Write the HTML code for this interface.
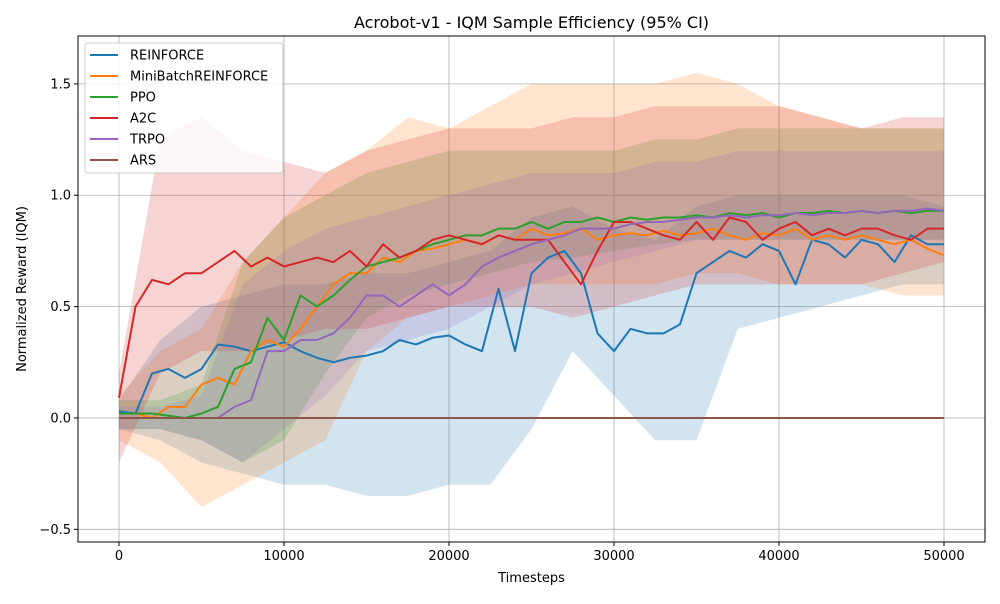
<!DOCTYPE html>
<html><head><meta charset="utf-8">
<style>
body{margin:0;background:#fff;font-family:"DejaVu Sans","Liberation Sans",sans-serif;}
svg text{font-family:"DejaVu Sans","Liberation Sans",sans-serif;}
</style></head>
<body>
<svg id="chart" width="1000" height="600" viewBox="0 0 1000 600" xmlns="http://www.w3.org/2000/svg"></svg>
<script>
const seriesNames = ["REINFORCE","MiniBatchREINFORCE","PPO","A2C","TRPO","ARS"];
const seriesColors = ["#1f77b4","#ff7f0e","#2ca02c","#d62728","#9467bd","#8c564b"];
const xTicks = [0,10000,20000,30000,40000,50000];
const yTicks = [-0.5,0,0.5,1.0,1.5];
const yTickLabels = ["−0.5","0.0","0.5","1.0","1.5"];
const meanSteps = Array.from({length:51},(_,i)=>i*1000);
const bandSteps = Array.from({length:21},(_,i)=>i*2500);

const reinforceMean = [0.03,0.02,0.2,0.22,0.18,0.22,0.33,0.32,0.3,0.32,0.34,0.3,0.27,0.25,0.27,0.28,0.3,0.35,0.33,0.36,0.37,0.33,0.3,0.58,0.3,0.65,0.72,0.75,0.65,0.38,0.3,0.4,0.38,0.38,0.42,0.65,0.7,0.75,0.72,0.78,0.75,0.6,0.8,0.78,0.72,0.8,0.78,0.7,0.82,0.78,0.78];
const miniBatchMean = [0.02,0.02,0.0,0.05,0.05,0.15,0.18,0.15,0.3,0.35,0.32,0.4,0.5,0.6,0.65,0.65,0.72,0.7,0.75,0.76,0.78,0.8,0.78,0.82,0.8,0.85,0.82,0.83,0.85,0.8,0.82,0.83,0.82,0.84,0.82,0.83,0.85,0.82,0.8,0.83,0.82,0.85,0.8,0.82,0.8,0.82,0.8,0.78,0.8,0.76,0.73];
const ppoMean = [0.02,0.02,0.02,0.01,0.0,0.02,0.05,0.22,0.25,0.45,0.35,0.55,0.5,0.55,0.62,0.68,0.7,0.72,0.75,0.78,0.8,0.82,0.82,0.85,0.85,0.88,0.85,0.88,0.88,0.9,0.88,0.9,0.89,0.9,0.9,0.91,0.9,0.92,0.91,0.92,0.9,0.92,0.92,0.93,0.92,0.93,0.92,0.93,0.92,0.93,0.93];
const a2cMean = [0.09,0.5,0.62,0.6,0.65,0.65,0.7,0.75,0.68,0.72,0.68,0.7,0.72,0.7,0.75,0.68,0.78,0.72,0.75,0.8,0.82,0.8,0.78,0.82,0.8,0.8,0.8,0.7,0.6,0.75,0.88,0.88,0.85,0.82,0.8,0.88,0.8,0.9,0.88,0.8,0.85,0.88,0.82,0.85,0.82,0.85,0.85,0.82,0.8,0.85,0.85];
const trpoMean = [0.0,0.0,0.0,0.0,0.0,0.0,0.0,0.05,0.08,0.3,0.3,0.35,0.35,0.38,0.45,0.55,0.55,0.5,0.55,0.6,0.55,0.6,0.68,0.72,0.75,0.78,0.8,0.82,0.85,0.85,0.85,0.87,0.88,0.88,0.89,0.9,0.9,0.91,0.9,0.91,0.91,0.92,0.91,0.92,0.92,0.93,0.92,0.93,0.93,0.94,0.93];
const arsMean = Array(51).fill(0);

const reinforceLo = [-0.05,-0.1,-0.2,-0.25,-0.3,-0.3,-0.35,-0.35,-0.3,-0.3,-0.05,0.3,0.1,-0.1,-0.1,0.4,0.45,0.5,0.55,0.6,0.6];
const reinforceHi = [0.08,0.35,0.5,0.55,0.6,0.6,0.65,0.65,0.7,0.75,0.9,0.95,0.85,0.8,0.95,1.0,1.0,1.0,1.0,1.0,0.95];
const miniBatchLo = [-0.1,-0.2,-0.4,-0.3,-0.2,-0.1,0.3,0.45,0.5,0.55,0.6,0.6,0.6,0.6,0.65,0.65,0.6,0.6,0.6,0.55,0.55];
const miniBatchHi = [0.1,0.3,0.4,0.7,0.9,1.1,1.2,1.35,1.3,1.4,1.5,1.5,1.5,1.5,1.55,1.5,1.4,1.35,1.3,1.3,1.3];
const ppoLo = [-0.05,-0.05,-0.1,-0.2,-0.1,0.2,0.45,0.55,0.6,0.65,0.7,0.72,0.75,0.78,0.8,0.8,0.8,0.8,0.8,0.8,0.8];
const ppoHi = [0.08,0.08,0.15,0.7,0.9,1.0,1.1,1.15,1.2,1.2,1.2,1.2,1.2,1.25,1.25,1.3,1.3,1.3,1.3,1.3,1.3];
const a2cLo = [-0.2,0.2,0.3,0.3,0.35,0.4,0.4,0.45,0.5,0.5,0.5,0.45,0.5,0.55,0.6,0.6,0.6,0.6,0.6,0.65,0.7];
const a2cHi = [0.2,1.25,1.35,1.2,1.15,1.1,1.2,1.25,1.3,1.3,1.3,1.35,1.35,1.4,1.4,1.4,1.4,1.35,1.3,1.35,1.35];
const trpoLo = [-0.05,-0.05,-0.1,-0.2,-0.05,0.1,0.3,0.35,0.4,0.5,0.6,0.65,0.7,0.75,0.8,0.8,0.8,0.8,0.8,0.8,0.8];
const trpoHi = [0.05,0.05,0.1,0.6,0.75,0.85,0.9,0.95,1.0,1.05,1.1,1.1,1.1,1.15,1.15,1.2,1.2,1.2,1.2,1.2,1.2];

const means = [reinforceMean,miniBatchMean,ppoMean,a2cMean,trpoMean,arsMean];
const los = [reinforceLo,miniBatchLo,ppoLo,a2cLo,trpoLo,null];
const his = [reinforceHi,miniBatchHi,ppoHi,a2cHi,trpoHi,null];

const P = {l:78,r:985,t:36,b:542};
const xMin=-2485, xMax=52485, yMin=-0.557, yMax=1.715;
const sx = v => P.l + (v-xMin)/(xMax-xMin)*(P.r-P.l);
const sy = v => P.b - (v-yMin)/(yMax-yMin)*(P.b-P.t);
const NS="http://www.w3.org/2000/svg";
const svg=document.getElementById('chart');
function mk(tag,attrs,parent){const e=document.createElementNS(NS,tag);for(const k in attrs)e.setAttribute(k,attrs[k]);(parent||svg).appendChild(e);return e;}

xTicks.forEach(t=>{
  const g=mk('line',{x1:sx(t),x2:sx(t),y1:P.t,y2:P.b,stroke:'#b0b0b0','stroke-width':0.8});
  
  
});
yTicks.forEach(t=>{
  const g=mk('line',{x1:P.l,x2:P.r,y1:sy(t),y2:sy(t),stroke:'#b0b0b0','stroke-width':0.8});
  
  
});

means.forEach((m,i)=>{
  if(los[i]){
    let d='';
    bandSteps.forEach((x,j)=>{d+=(j?'L':'M')+sx(x)+','+sy(his[i][j]);});
    for(let j=bandSteps.length-1;j>=0;j--) d+='L'+sx(bandSteps[j])+','+sy(los[i][j]);
    const b=mk('path',{d:d+'Z',fill:seriesColors[i],'fill-opacity':0.2,stroke:'none'});
    
    
  }
});
means.forEach((m,i)=>{
  const pts=m.map((v,j)=>sx(meanSteps[j])+','+sy(v)).join(' ');
  const l=mk('polyline',{points:pts,fill:'none',stroke:seriesColors[i],'stroke-width':2,'stroke-linejoin':'round'});
  
  
});

const fr=mk('rect',{x:P.l,y:P.t,width:P.r-P.l,height:P.b-P.t,fill:'none',stroke:'#000','stroke-width':1});



xTicks.forEach(t=>{
  mk('line',{x1:sx(t),x2:sx(t),y1:P.b,y2:P.b+4,stroke:'#000'});
  const tx=mk('text',{x:sx(t),y:P.b+18,'text-anchor':'middle','font-size':13});
  tx.textContent=t;
  
  
});
yTicks.forEach((t,i)=>{
  mk('line',{x1:P.l-4,x2:P.l,y1:sy(t),y2:sy(t),stroke:'#000'});
  const tx=mk('text',{x:P.l-7,y:sy(t)+4.5,'text-anchor':'end','font-size':13});
  tx.textContent=yTickLabels[i];
  
  
});

const ti=mk('text',{x:(P.l+P.r)/2,y:28,'text-anchor':'middle','font-size':16});
ti.textContent='Acrobot-v1 - IQM Sample Efficiency (95% CI)';


const xt=mk('text',{x:(P.l+P.r)/2,y:582,'text-anchor':'middle','font-size':13});
xt.textContent='Timesteps';


const yt=mk('text',{x:0,y:0,'text-anchor':'middle','font-size':13,transform:'translate(26,289) rotate(-90)'});
yt.textContent='Normalized Reward (IQM)';



const lg=mk('g',{});


mk('rect',{x:85,y:43,width:198,height:130,rx:3,fill:'#fff','fill-opacity':0.8,stroke:'#ccc'},lg);
seriesNames.forEach((n,i)=>{
  const y=55+i*21;
  const e=mk('g',{},lg);
  
  
  mk('line',{x1:90,x2:118,y1:y,y2:y,stroke:seriesColors[i],'stroke-width':2},e);
  const t=mk('text',{x:130,y:y+4.5,'font-size':13},e);
  t.textContent=n;
});
</script>
</body></html>
